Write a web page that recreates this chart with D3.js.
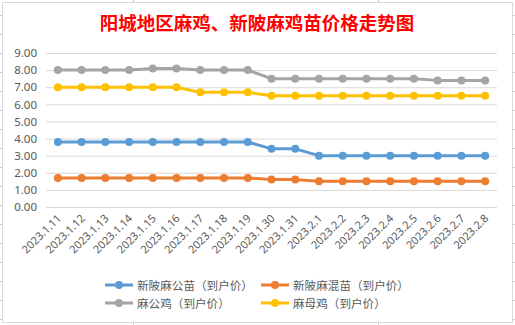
<!DOCTYPE html>
<html><head><meta charset="utf-8">
<script src="https://cdn.jsdelivr.net/npm/d3@7/dist/d3.min.js"></script>
<style>
html,body{margin:0;padding:0;background:#fff;}
svg{display:block;}
</style></head>
<body>
<svg id="c" width="515" height="325"></svg>
<script>
const categories = ["2023.1.11","2023.1.12","2023.1.13","2023.1.14","2023.1.15","2023.1.16","2023.1.17","2023.1.18","2023.1.19","2023.1.30","2023.1.31","2023.2.1","2023.2.2","2023.2.3","2023.2.4","2023.2.5","2023.2.6","2023.2.7","2023.2.8"];
const seriesNames = ["新陂麻公苗（到户价）","新陂麻混苗（到户价）","麻公鸡（到户价）","麻母鸡（到户价）"];
const xinpiGongMiao = [3.8,3.8,3.8,3.8,3.8,3.8,3.8,3.8,3.8,3.4,3.4,3.0,3.0,3.0,3.0,3.0,3.0,3.0,3.0];
const xinpiHunMiao  = [1.7,1.7,1.7,1.7,1.7,1.7,1.7,1.7,1.7,1.6,1.6,1.5,1.5,1.5,1.5,1.5,1.5,1.5,1.5];
const maGongJi      = [8.0,8.0,8.0,8.0,8.1,8.1,8.0,8.0,8.0,7.5,7.5,7.5,7.5,7.5,7.5,7.5,7.4,7.4,7.4];
const maMuJi        = [7.0,7.0,7.0,7.0,7.0,7.0,6.7,6.7,6.7,6.5,6.5,6.5,6.5,6.5,6.5,6.5,6.5,6.5,6.5];
const yTicks = [0,1,2,3,4,5,6,7,8,9];
const colors = ["#5B9BD5","#ED7D31","#A5A5A5","#FFC000"];
const title = "阳城地区麻鸡、新陂麻鸡苗价格走势图";

const allSeries = [xinpiGongMiao, xinpiHunMiao, maGongJi, maMuJi];
const svg = d3.select("#c");
const font = "'Noto Sans','Noto Sans CJK SC',sans-serif";

// spreadsheet background marks
const deco = svg.append("g").attr("stroke","#c9c9d6").attr("stroke-width",1);
[133,378].forEach(x=>{
  deco.append("line").attr("x1",x+0.5).attr("x2",x+0.5).attr("y1",0).attr("y2",2);
  deco.append("line").attr("x1",x+0.5).attr("x2",x+0.5).attr("y1",323).attr("y2",325);
});
d3.range(15,325,19).forEach(y=>{
  deco.append("line").attr("x1",0).attr("x2",2).attr("y1",y+0.5).attr("y2",y+0.5);
  deco.append("line").attr("x1",513).attr("x2",515).attr("y1",y+0.5).attr("y2",y+0.5);
});

// chart border
svg.append("rect").attr("x",2.5).attr("y",2.5).attr("width",510).attr("height",320)
  .attr("fill","#fff").attr("stroke","#D9D9D9").attr("stroke-width",1);

svg.append("text").attr("x",257).attr("y",30).attr("text-anchor","middle")
  .attr("font-family","'Noto Sans CJK SC',sans-serif").attr("font-weight","bold")
  .attr("font-size","18.5px").attr("fill","#FF0000").text(title);

const x = d3.scaleBand().domain(categories).range([46,497]);
const y = d3.scaleLinear().domain([0,9]).range([207,53]);

// gridlines
const yAxis = svg.append("g").attr("transform","translate(46,0)")
  .call(d3.axisLeft(y).tickValues(yTicks).tickFormat(d3.format(".2f")).tickSize(-451).tickPadding(9));
yAxis.select(".domain").remove();
yAxis.selectAll(".tick line").attr("stroke","#D9D9D9").attr("stroke-width",1);
yAxis.selectAll(".tick text").attr("fill","#595959").attr("font-family",font).attr("font-size","11.5px");

// x labels
const xAxis = svg.append("g").attr("transform","translate(0,207)")
  .call(d3.axisBottom(x).tickSize(0).tickPadding(0));
xAxis.select(".domain").remove();
xAxis.selectAll(".tick text")
  .attr("fill","#595959").attr("font-family",font).attr("font-size","11px")
  .attr("text-anchor","end").attr("dy",null).attr("y",0)
  .attr("transform","translate(4,12) rotate(-45)");

const line = d3.line().x((d,i)=>x(categories[i])+x.bandwidth()/2).y(d=>y(d));
allSeries.forEach((s,k)=>{
  const g = svg.append("g");
  g.append("path").datum(s).attr("d",line).attr("fill","none")
    .attr("stroke",colors[k]).attr("stroke-width",3).attr("stroke-linejoin","round");
  g.selectAll("circle").data(s).join("circle")
    .attr("cx",(d,i)=>x(categories[i])+x.bandwidth()/2).attr("cy",d=>y(d))
    .attr("r",4).attr("fill",colors[k]);
});

// legend
const legPos = [[105,285],[261,285],[105,303],[261,303]];
seriesNames.forEach((n,k)=>{
  const [lx,ly] = legPos[k];
  const g = svg.append("g");
  g.append("line").attr("x1",lx).attr("x2",lx+28).attr("y1",ly).attr("y2",ly)
    .attr("stroke",colors[k]).attr("stroke-width",3);
  g.append("circle").attr("cx",lx+14).attr("cy",ly).attr("r",4).attr("fill",colors[k]);
  g.append("text").attr("x",lx+32).attr("y",ly+4.5).attr("fill","#595959")
    .attr("font-family","'Noto Sans CJK SC',sans-serif").attr("font-size","11.6px").text(n);
});
</script>
</body></html>
